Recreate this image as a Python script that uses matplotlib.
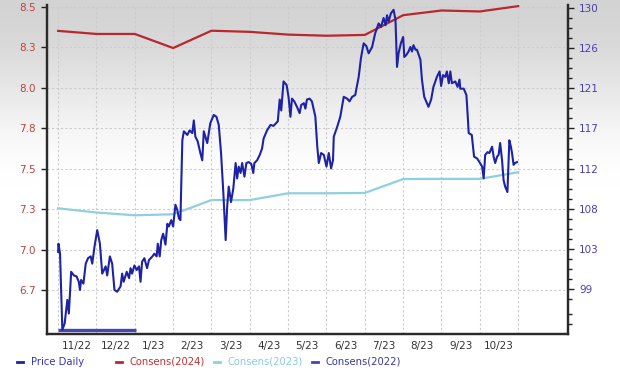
import numpy as np
import matplotlib
matplotlib.use("Agg")
import matplotlib.pyplot as plt
from matplotlib.lines import Line2D

# months since 11/2022 (x)
month_labels = ["11/22", "12/22", "1/23", "2/23", "3/23", "4/23", "5/23",
                "6/23", "7/23", "8/23", "9/23", "10/23"]

cons_months = list(range(13))
cons_2024 = [8.352, 8.333, 8.333, 8.246, 8.353, 8.346, 8.329, 8.322, 8.327,
             8.449, 8.478, 8.472, 8.505]
cons_2023 = [7.255, 7.229, 7.212, 7.218, 7.306, 7.306, 7.348, 7.348, 7.350,
             7.436, 7.437, 7.437, 7.478]
cons_2022_months = [0.0, 2.02]
cons_2022 = [6.50, 6.50]

price_months = [
    0.00, 0.01, 0.05, 0.11, 0.17, 0.24, 0.28, 0.31, 0.34, 0.41, 0.48, 0.54,
    0.57, 0.60, 0.66, 0.72, 0.78, 0.85, 0.89, 0.95, 1.02, 1.09, 1.15, 1.24,
    1.28, 1.35, 1.41, 1.47, 1.54, 1.63, 1.67, 1.71, 1.79, 1.85, 1.89, 1.93,
    1.99, 2.05, 2.11, 2.15, 2.19, 2.25, 2.32, 2.37, 2.46, 2.51, 2.57, 2.60,
    2.65, 2.69, 2.74, 2.80, 2.85, 2.89, 2.95, 3.00, 3.06, 3.11, 3.15, 3.19,
    3.24, 3.28, 3.37, 3.43, 3.50, 3.54, 3.58, 3.64, 3.71, 3.76, 3.80, 3.89,
    3.97, 4.06, 4.13, 4.19, 4.25, 4.31, 4.37, 4.41, 4.45, 4.51, 4.57, 4.63,
    4.67, 4.71, 4.76, 4.80, 4.86, 4.91, 4.97, 5.04, 5.09, 5.12, 5.19, 5.26,
    5.32, 5.36, 5.45, 5.54, 5.62, 5.73, 5.78, 5.82, 5.88, 5.96, 6.01, 6.06,
    6.10, 6.16, 6.23, 6.30, 6.34, 6.41, 6.45, 6.49, 6.56, 6.62, 6.71, 6.76,
    6.80, 6.86, 6.93, 7.00, 7.06, 7.12, 7.17, 7.19, 7.28, 7.36, 7.45, 7.54,
    7.60, 7.67, 7.75, 7.84, 7.90, 7.97, 8.04, 8.10, 8.19, 8.27, 8.36, 8.42,
    8.49, 8.54, 8.58, 8.62, 8.68, 8.75, 8.80, 8.84, 8.88, 8.94, 9.00, 9.03,
    9.08, 9.14, 9.19, 9.23, 9.27, 9.32, 9.36, 9.45, 9.49, 9.55, 9.66, 9.73,
    9.79, 9.88, 9.95, 9.99, 10.04, 10.10, 10.14, 10.19, 10.23, 10.27, 10.36,
    10.42, 10.47, 10.49, 10.58, 10.65, 10.68, 10.71, 10.79, 10.85, 10.93,
    10.99, 11.06, 11.10, 11.14, 11.20, 11.25, 11.32, 11.36, 11.40, 11.45,
    11.49, 11.53, 11.58, 11.62, 11.66, 11.72, 11.75, 11.77, 11.81, 11.84,
    11.88, 11.92, 11.97]
price_daily = [
    103.1, 104.0, 102.9, 94.5, 95.2, 97.8, 96.3, 98.5, 100.9, 100.5, 100.4, 99.8,
    98.9, 100.0, 99.6, 101.8, 102.4, 102.6, 101.8, 103.7, 105.5, 104.0, 100.7, 101.5,
    100.5, 102.6, 101.8, 98.9, 98.7, 99.3, 100.7, 99.8, 100.9, 100.2, 101.3, 100.7,
    101.6, 101.1, 101.5, 99.8, 102.0, 102.4, 101.3, 102.2, 102.6, 102.9, 102.6, 104.0,
    102.6, 104.4, 105.1, 103.9, 106.2, 105.9, 106.6, 105.9, 108.3, 107.7, 106.8, 106.6,
    115.4, 116.4, 116.0, 116.5, 116.2, 117.6, 115.8, 115.3, 114.0, 113.2, 116.4, 115.1,
    117.3, 118.2, 118.0, 117.1, 114.0, 109.6, 104.4, 108.1, 110.3, 108.6, 110.1, 112.9,
    111.2, 112.5, 111.8, 112.9, 111.4, 112.9, 113.0, 112.8, 111.8, 112.9, 113.2, 113.8,
    114.5, 115.6, 116.5, 117.1, 117.0, 117.5, 119.9, 118.7, 121.9, 121.5, 120.2, 118.0,
    120.0, 119.7, 119.1, 118.4, 119.3, 119.5, 118.9, 119.9, 120.0, 119.7, 118.0, 114.7,
    112.9, 114.0, 113.8, 112.5, 114.0, 112.3, 113.2, 115.8, 116.9, 118.0, 120.2, 120.0,
    119.7, 120.2, 120.4, 122.4, 124.5, 126.1, 125.8, 125.0, 125.7, 127.2, 128.3, 127.9,
    128.9, 128.1, 129.2, 128.5, 129.4, 129.8, 128.7, 123.5, 125.0, 126.1, 126.8, 124.6,
    124.8, 125.2, 125.7, 125.2, 125.9, 125.4, 125.4, 124.3, 122.1, 120.2, 119.1, 119.9,
    121.3, 122.4, 123.0, 121.4, 122.6, 122.4, 123.0, 121.7, 123.0, 121.7, 121.9,
    121.3, 122.1, 121.1, 121.1, 120.4, 118.4, 116.2, 116.0, 113.6, 113.4,
    113.0, 112.5, 111.2, 113.8, 114.1, 114.0, 114.7, 113.6, 112.9, 113.6,
    113.8, 115.1, 113.2, 111.0, 110.3, 109.7, 113.2, 115.4, 114.7, 114.0,
    112.7, 112.9, 113.0]

left_ticks = [8.5, 8.25, 8.0, 7.75, 7.5, 7.25, 7.0, 6.75]
left_labels = ["8.5", "8.3", "8.0", "7.8", "7.5", "7.3", "7.0", "6.7"]
right_labels = ["130", "126", "121", "117", "112", "108", "103", "99"]

c_price = "#1e22a5"
c_2024 = "#b8282c"
c_2023 = "#8fd0df"
c_2022 = "#4646ae"

fig = plt.figure(figsize=(6.2, 3.75), dpi=100)

# grey-to-white background fade (top half only)
bg = fig.add_axes([0, 0, 1, 1], zorder=-10)
t = np.clip(np.linspace(0, 1, 375) / 0.5, 0, 1)
fade = 0.83 + 0.17 * (3 * t ** 2 - 2 * t ** 3)
bg.imshow(np.repeat(fade[:, None, None], 3, axis=2), aspect="auto",
          extent=[0, 1, 0, 1], interpolation="bilinear")
bg.axis("off")

ax = fig.add_axes([47 / 620, 1 - 334 / 375, 521 / 620, 329 / 375])
ax.set_facecolor("none")
ax2 = ax.twinx()

ax.plot(cons_months, cons_2024, color=c_2024, lw=1.6)
ax.plot(cons_months, cons_2023, color=c_2023, lw=1.6)
ax.plot(cons_2022_months, cons_2022, color=c_2022, lw=2.4, solid_capstyle="butt")
ax2.plot(price_months, price_daily, color=c_price, lw=1.5)

ax.set_xlim(-0.29, 13.3)
ax.set_ylim(6.478, 8.512)
ax2.set_ylim(94.04, 130.33)

ax.set_yticks(left_ticks)
ax.set_yticklabels(left_labels)
ax.tick_params(axis="y", colors="#222222", labelcolor="#b9433f", labelsize=7.5,
               length=4, width=1, pad=4)

right_ticks = np.linspace(130, 99, 8)
ax2.set_yticks(right_ticks)
ax2.set_yticklabels(right_labels)
ax2.set_yticks(np.linspace(130, 99, 29)[1:].tolist() + [95.12, 96.23, 97.89], minor=True)
ax2.tick_params(axis="y", which="major", colors="#222222", labelcolor="#4a3fb0",
                labelsize=7.5, length=4, width=1, pad=4)
ax2.tick_params(axis="y", which="minor", colors="#222222", length=3, width=1)

ax.set_xticks(np.arange(13))
ax.set_xticklabels([])
ax.set_xticks(np.arange(12) + 0.5, minor=True)
ax.set_xticklabels(month_labels, minor=True)
ax.tick_params(axis="x", which="both", length=0, pad=5, labelsize=7.5,
               labelcolor="#333333")

ax.grid(True, color="#cccccc", ls=(0, (2, 2)), lw=0.8)
ax.set_axisbelow(True)

for a in (ax, ax2):
    a.spines["top"].set_visible(False)
    for s in ("left", "right", "bottom"):
        a.spines[s].set_color("#2a2a2a")
        a.spines[s].set_linewidth(1.6)

# legend row below the axis
entries = [("Price Daily", c_price, "#3535b5", 20),
           ("Consens(2024)", c_2024, "#c03232", 119),
           ("Consens(2023)", c_2023, "#8ccbe0", 217),
           ("Consens(2022)", c_2022, "#3a3a9a", 315)]
ly = 1 - 362 / 375
for label, lc, tc, px in entries:
    fig.add_artist(Line2D([(px - 3) / 620, (px + 3) / 620], [ly, ly],
                          color=lc, lw=2, transform=fig.transFigure))
    fig.text((px + 11) / 620, ly, label, color=tc, fontsize=7.2, va="center")

fig.savefig("out.png", dpi=100)
